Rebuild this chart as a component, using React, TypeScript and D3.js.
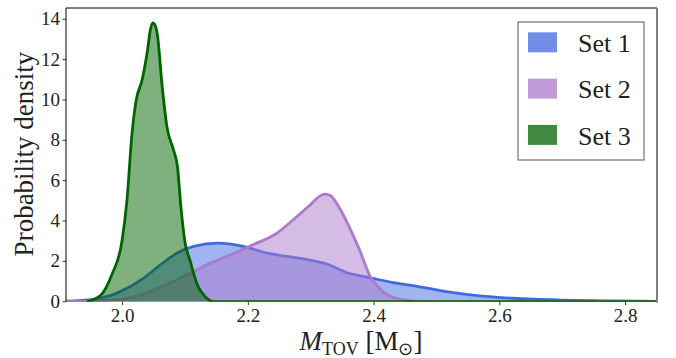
import React from "react";
import * as d3 from "d3";

const xTicks = [2.0, 2.2, 2.4, 2.6, 2.8];
const yTicks = [0, 2, 4, 6, 8, 10, 12, 14];

const set1X = [1.91, 1.954, 1.98, 1.996, 2.033, 2.06, 2.086, 2.113, 2.152, 2.192, 2.229, 2.25, 2.271, 2.303, 2.324, 2.356, 2.398, 2.43, 2.462, 2.515, 2.568, 2.621, 2.7, 2.78, 2.85];
const set1Y = [0.03, 0.12, 0.3, 0.5, 1.16, 1.82, 2.4, 2.74, 2.9, 2.74, 2.42, 2.3, 2.2, 2.03, 1.88, 1.45, 1.16, 0.95, 0.8, 0.5, 0.29, 0.17, 0.08, 0.04, 0.02];

const set2X = [1.91, 1.95, 1.975, 2.007, 2.03, 2.049, 2.086, 2.113, 2.139, 2.176, 2.208, 2.245, 2.271, 2.298, 2.312, 2.322, 2.331, 2.341, 2.356, 2.377, 2.393, 2.414, 2.441, 2.47, 2.52, 2.85];
const set2Y = [0, 0.02, 0.07, 0.17, 0.35, 0.58, 1.08, 1.5, 1.9, 2.38, 2.83, 3.39, 4.05, 4.79, 5.2, 5.33, 5.25, 4.85, 4.0, 2.56, 1.3, 0.5, 0.12, 0.02, 0, 0];

const set3X = [1.943, 1.9646, 1.983, 1.999, 2.007, 2.015, 2.0217, 2.031, 2.0397, 2.044, 2.048, 2.0515, 2.0555, 2.0625, 2.0705, 2.081, 2.0873, 2.0927, 2.0995, 2.107, 2.118, 2.134, 2.144, 2.2, 2.85];
const set3Y = [0, 0.3, 1.35, 3.0, 5.04, 8.35, 10.0, 10.99, 12.48, 13.45, 13.82, 13.72, 13.2, 10.83, 8.68, 7.52, 6.69, 4.71, 2.9, 2.07, 0.91, 0.17, 0, 0, 0];

const seriesNames = ["Set 1", "Set 2", "Set 3"];
const lineColors = ["#4169e1", "#ab7acb", "#006400"];
const fillColors = ["rgba(65,105,225,0.5)", "rgba(171,122,203,0.5)", "rgba(0,100,0,0.5)"];
const legendColors = ["#708ee8", "#c09bd8", "#408b40"];

const W = 676, H = 358;
const L = 66, R = 657, T = 8, B = 301.7;
const font = "Liberation Serif";

export default function App() {
  const x = d3.scaleLinear().domain([1.91, 2.85]).range([L, R]);
  const y = d3.scaleLinear().domain([0, 14.56]).range([B, T]);
  const series = [
    set1X.map((v, i) => [v, set1Y[i]] as [number, number]),
    set2X.map((v, i) => [v, set2Y[i]] as [number, number]),
    set3X.map((v, i) => [v, set3Y[i]] as [number, number]),
  ];
  const area = d3.area<[number, number]>().x(d => x(d[0])).y0(y(0)).y1(d => y(d[1])).curve(d3.curveMonotoneX);
  const line = d3.line<[number, number]>().x(d => x(d[0])).y(d => y(d[1])).curve(d3.curveMonotoneX);
  const ts = { fontFamily: font };
  return (
    <svg width={W} height={H} style={{ position: "absolute", left: 0, top: 0 }}>
      <rect x={0} y={0} width={W} height={H} fill="#fff" />
      <defs>
        <clipPath id="pc"><rect x={L} y={T} width={R - L} height={B - T} /></clipPath>
      </defs>
      <g clipPath="url(#pc)">
        {series.map((s, i) => (
          <g key={i}>
            <path d={area(s) || ""} fill={fillColors[i]} />
            <path d={line(s) || ""} fill="none" stroke={lineColors[i]} strokeWidth={2.8} strokeLinejoin="round" />
          </g>
        ))}
      </g>
      <line x1={L} x2={R} y1={T} y2={T} stroke="#000" strokeWidth={1} />
      <line x1={L} x2={L} y1={T} y2={B} stroke="#000" strokeWidth={1} />
      <line x1={R} x2={R} y1={T} y2={B + 1} stroke="#808080" strokeWidth={2} />
      {xTicks.map(t => (
        <g key={t}>
          <line x1={x(t)} x2={x(t)} y1={B} y2={B + 3.5} stroke="#000" strokeWidth={0.8} />
          <text x={x(t)} y={B + 20} fontSize={19} textAnchor="middle" fill="#222" style={ts}>{t.toFixed(1)}</text>
        </g>
      ))}
      {yTicks.map(t => (
        <g key={t}>
          <line x1={L - 3.5} x2={L} y1={y(t)} y2={y(t)} stroke="#000" strokeWidth={0.8} />
          <text x={L - 6} y={y(t) + 6} fontSize={19} textAnchor="end" fill="#222" style={ts}>{t}</text>
        </g>
      ))}
      <text transform={`translate(33,154) rotate(-90)`} fontSize={27} textAnchor="middle" fill="#222" style={ts}>Probability density</text>
      <text x={361} y={350} fontSize={27} textAnchor="middle" fill="#222" style={ts}>
        <tspan fontStyle="italic">M</tspan>
        <tspan fontSize={18} dy={5}>TOV</tspan>
        <tspan dy={-5}> [M</tspan>
        <tspan fontSize={18} dy={5}>⊙</tspan>
        <tspan dy={-5}>]</tspan>
      </text>
      <rect x={518} y={22} width={126} height={138} fill="#fff" stroke="#555" strokeWidth={1} />
      {seriesNames.map((n, i) => (
        <g key={n}>
          <rect x={528} y={32.3 + i * 46.3} width={29} height={20} fill={legendColors[i]} />
          <text x={578} y={52 + i * 46.3} fontSize={26} fill="#222" style={ts}>{n}</text>
        </g>
      ))}
    </svg>
  );
}
